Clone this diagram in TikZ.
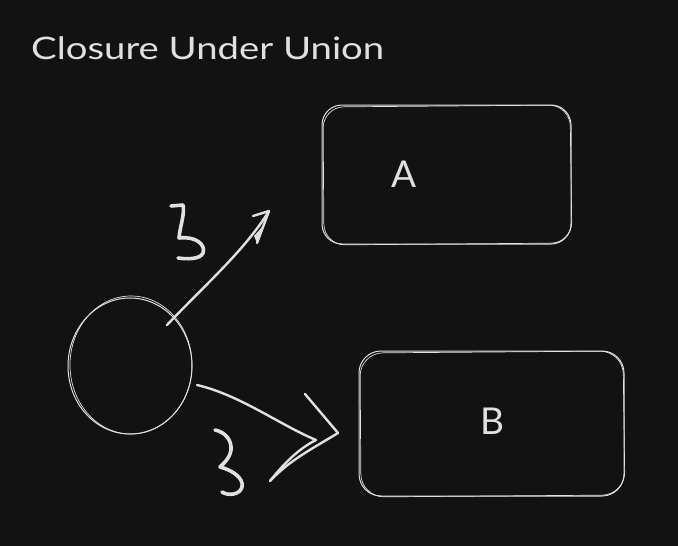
\documentclass[tikz,border=0pt]{standalone}
\usepackage{fontspec}
\setmainfont{Lato}
\usetikzlibrary{shapes.geometric}
\definecolor{bg}{HTML}{121212}
\definecolor{ink}{HTML}{E0E0E0}
\begin{document}
\begin{tikzpicture}[x=1pt,y=-1pt,
  sketch/.style={draw=ink,line width=1pt},
  pen/.style={draw=ink,line width=2.4pt,line cap=round,line join=round},
  mark3/.style={draw=ink,line width=3.6pt,line cap=round,line join=round},
  lbl/.style={text=ink,inner sep=0pt,font=\fontsize{37}{40}\selectfont}]
\fill[bg] (0,0) rectangle (678,546);
\useasboundingbox (0,0) rectangle (678,546);
% title
\node[text=ink,anchor=west,inner sep=0pt,font=\fontsize{31}{34}\selectfont,xscale=1.235] (title) at (31,48) {Closure Under Union};
% boxes
\node[sketch,rounded corners=20pt,minimum width=249pt,minimum height=139pt] (A) at (446.5,174.5) {};
\draw[ink,line width=0.7pt,rounded corners=21pt] (323,107) -- (570,105) -- (572,243) -- (324,245) -- cycle;
\node[lbl] (Alabel) at (404,174) {A};
\node[sketch,rounded corners=22pt,minimum width=265pt,minimum height=145pt] (B) at (491.5,423.5) {};
\draw[ink,line width=0.7pt,rounded corners=23pt] (360,353) -- (623,351) -- (625,495) -- (361,497) -- cycle;
\node[lbl] (Blabel) at (492,421) {B};
% circle
\node[sketch,ellipse,minimum width=124pt,minimum height=136pt,inner sep=0pt] (C) at (130,366) {};
\draw[ink,line width=0.7pt] (131,365) ellipse [x radius=61pt, y radius=69pt];
% coordinates for arrows
\coordinate (a1s) at (167,325);
\coordinate (a1t) at (269,211);
\coordinate (a2s) at (197,385);
\coordinate (a2m) at (316,440);
\coordinate (a2t) at (338,433);
% arrow 1
\draw[pen] (a1s) .. controls (205,285) and (245,250) .. (a1t);
\draw[pen] (253,216) -- (a1t) -- (257,243);
\fill[ink] (257,243) -- (263,226) -- (254,236) -- cycle;
% arrow 2
\draw[pen] (a2s) .. controls (240,395) and (280,425) .. (a2m);
\draw[pen] (a2m) .. controls (300,448) and (285,462) .. (270,481);
\draw[pen] (305,394) -- (a2t) .. controls (310,450) and (290,460) .. (270,481);
% exists marks
\draw[mark3] (171,206) -- (183,205) .. controls (185,214) and (180,226) .. (179,238)
  .. controls (195,236) and (206,244) .. (203,253) .. controls (200,260) and (185,259) .. (178,258);
\draw[mark3] (215,430) .. controls (225,432) and (232,440) .. (231,450)
  .. controls (230,458) and (223,464) .. (220,467) .. controls (232,470) and (244,478) .. (242,487)
  .. controls (240,495) and (228,496) .. (222,492);
\end{tikzpicture}
\end{document}
